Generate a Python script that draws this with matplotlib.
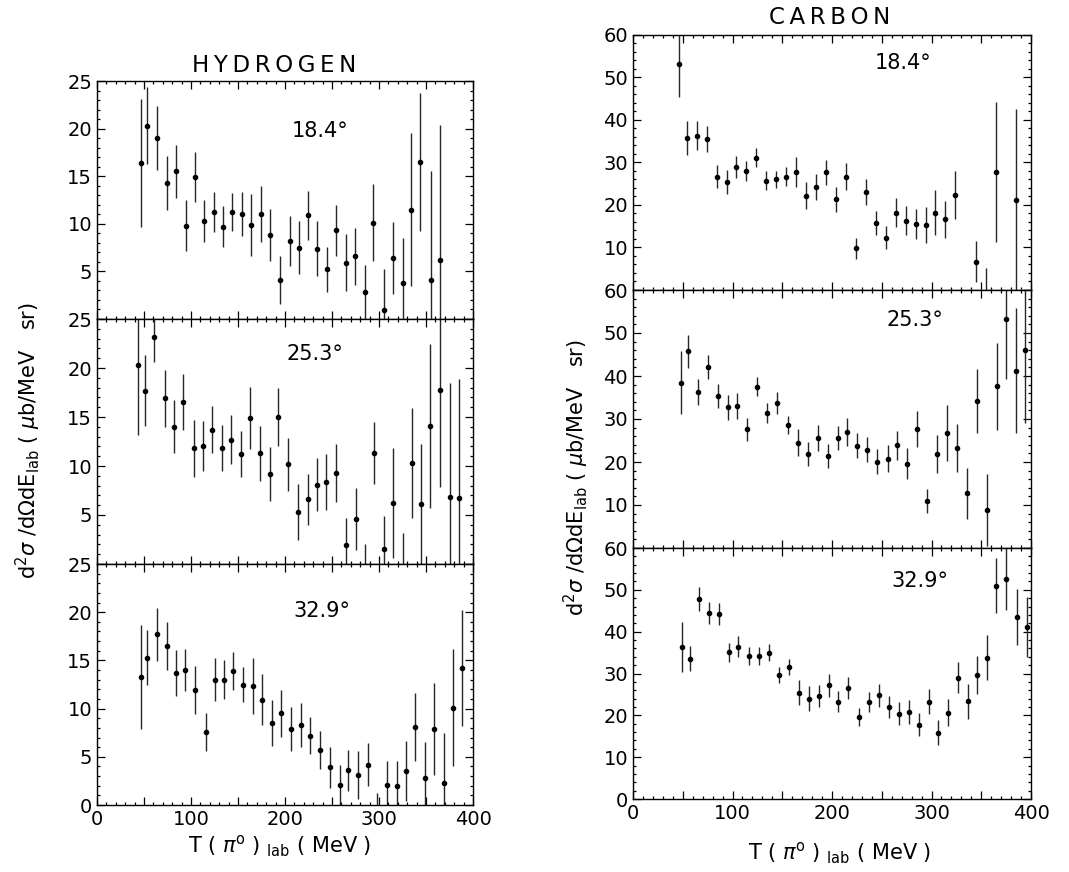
import matplotlib.pyplot as plt
from matplotlib.ticker import MultipleLocator, FuncFormatter

# pi0 kinetic energy (MeV), cross section and error
# hydrogen, 18.4 deg
h184_T = [47, 53, 63.5, 74, 84, 94.5, 104, 114, 124.5, 134, 144, 154, 164, 174, 184.5, 195, 205,
          215, 224.5, 234, 245, 254, 265, 274.5, 285, 294, 305.5, 315, 325, 334, 343.5, 355, 365]
h184_y = [16.4, 20.3, 19.0, 14.3, 15.5, 9.8, 14.9, 10.3, 11.2, 9.7, 11.2, 11.0, 9.9, 11.0, 8.8, 4.1, 8.2,
          7.5, 10.9, 7.4, 5.2, 9.3, 5.9, 6.6, 2.8, 10.1, 0.9, 6.4, 3.8, 11.5, 16.5, 4.1, 6.2]
h184_e = [6.7, 4.05, 3.4, 2.85, 2.8, 2.65, 2.65, 2.2, 2.1, 2.15, 2.0, 2.3, 3.25, 2.95, 2.75, 2.5, 2.65,
          2.8, 2.55, 2.85, 2.4, 2.65, 3.0, 3.0, 2.9, 4.05, 4.3, 3.75, 4.7, 8.05, 7.25, 11.4, 14.2]

# hydrogen, 25.3 deg
h253_T = [44, 51.5, 61, 72, 82, 92, 103, 113, 122.5, 133, 143, 153.5, 163, 173, 184, 193, 203.5, 214,
          224, 234, 244, 254, 265, 275, 285, 295, 305, 315, 325, 335, 345, 354.5, 364.5, 375.5, 385.5]
h253_y = [20.3, 17.7, 23.2, 16.9, 14.0, 16.5, 11.8, 12.0, 13.7, 11.8, 12.7, 11.2, 14.9, 11.3, 9.2, 15.0,
          10.2, 5.3, 6.6, 8.1, 8.4, 9.3, 1.9, 4.6, -0.8, 11.3, 1.5, 6.2, -0.5, 10.3, 6.1, 14.1, 17.8,
          6.8, 6.7]
h253_e = [7.1, 3.6, 2.6, 2.9, 2.7, 2.85, 2.9, 2.55, 2.4, 2.35, 2.5, 2.35, 3.2, 2.8, 2.75, 2.95, 2.7,
          2.85, 2.6, 2.7, 2.85, 2.95, 2.8, 3.15, 2.8, 3.15, 3.4, 5.6, 3.7, 5.65, 6.1, 8.4, 9.9, 11.7, 12.2]

# hydrogen, 32.9 deg
h329_T = [47, 53.5, 63.5, 74, 84, 94, 104.5, 115.5, 125, 135, 145, 155, 165.5, 176, 186, 196, 206,
          216.5, 227, 237, 247.5, 258, 267.5, 277.5, 288, 298, 308.5, 319, 328.5, 338.5, 349, 359,
          369.5, 378.5, 388.5]
h329_y = [13.3, 15.3, 17.7, 16.5, 13.7, 14.0, 11.9, 7.6, 13.0, 13.0, 13.9, 12.5, 12.3, 10.9, 8.5, 9.5,
          7.9, 8.3, 7.2, 5.7, 3.9, 2.1, 3.6, 3.1, 4.2, -1.0, 2.1, 2.0, 3.5, 8.1, 2.8, 7.9, 2.3, 10.1, 14.2]
h329_e = [5.4, 2.9, 2.75, 2.5, 2.35, 2.15, 2.5, 1.95, 2.2, 2.05, 2.0, 1.85, 2.9, 2.65, 2.4, 2.4, 2.25,
          2.25, 1.95, 2.0, 2.1, 2.1, 2.1, 2.45, 2.25, 2.2, 2.5, 2.6, 3.1, 3.55, 3.7, 4.75, 5.2, 6.05, 6.05]

# carbon, 18.4 deg
c184_T = [46.5, 54, 64, 74, 84, 94, 104, 114, 124, 134, 144, 154, 164, 174, 184, 194, 204, 214,
          224.5, 234, 244.5, 254.5, 264, 274, 284, 294, 304, 314, 324, 345, 355, 365, 385]
c184_y = [53.1, 35.7, 36.3, 35.5, 26.7, 25.4, 29.0, 28.0, 31.1, 25.7, 26.0, 26.7, 27.8, 22.2, 24.3,
          27.7, 21.3, 26.7, 9.8, 23.1, 15.8, 12.3, 18.2, 16.3, 15.5, 15.3, 18.2, 16.6, 22.4, 6.7, -1.0,
          27.8, 21.2]
c184_e = [7.8, 4.05, 3.45, 3.05, 2.75, 2.8, 2.6, 2.35, 2.2, 2.2, 2.0, 2.3, 3.5, 3.15, 3.05, 2.95, 2.95,
          3.15, 2.55, 3.1, 2.75, 2.75, 3.35, 3.35, 3.45, 4.2, 5.25, 4.3, 5.6, 4.9, 6.1, 16.45, 21.3]

# carbon, 25.3 deg
c253_T = [48, 55, 65.5, 75, 85, 95, 105, 115, 125, 135, 145, 155.5, 165.5, 176, 186, 196, 206, 215.5,
          225.5, 235.5, 245.5, 256, 265.5, 275.5, 285.5, 295.5, 305.5, 315.5, 325.5, 335.5, 345.5, 356,
          365.5, 375, 385, 394]
c253_y = [38.4, 45.7, 36.3, 42.1, 35.4, 32.7, 33.0, 27.6, 37.5, 31.4, 33.7, 28.6, 24.5, 21.9, 25.6,
          21.4, 25.6, 27.0, 23.8, 22.8, 20.1, 20.8, 23.9, 19.6, 27.6, 11.0, 21.9, 26.8, 23.2, 12.7, 34.2,
          8.9, 37.6, 53.3, 41.2, 46.0]
c253_e = [7.35, 3.85, 3.1, 2.9, 2.8, 2.9, 3.0, 2.6, 2.25, 2.4, 2.5, 2.1, 3.2, 2.85, 3.0, 2.9, 2.8, 3.25,
          2.95, 2.9, 2.95, 3.1, 3.35, 3.55, 4.2, 2.8, 4.4, 6.55, 5.55, 6.0, 7.35, 8.35, 10.1, 14.0, 14.5, 17.0]

# carbon, 32.9 deg
c329_T = [49, 57, 66, 76, 86, 96.5, 106, 116.5, 126.5, 136.5, 146.5, 157, 167, 176.5, 186.5, 196.5,
          206.5, 216.5, 227, 237, 247, 257, 267, 277, 287, 297, 307, 317, 326.5, 337, 346, 356, 365,
          374.5, 386, 395.5]
c329_y = [36.3, 33.5, 47.9, 44.4, 44.2, 35.1, 36.4, 34.2, 34.2, 35.0, 29.6, 31.6, 25.4, 24.0, 24.6,
          27.2, 23.2, 26.6, 19.6, 23.2, 24.8, 22.0, 20.4, 20.8, 17.8, 23.3, 15.8, 20.6, 29.0, 23.4, 29.6,
          33.8, 51.0, 52.6, 43.5, 41.2]
c329_e = [6.05, 3.0, 2.85, 2.6, 2.6, 2.25, 2.55, 2.2, 2.25, 2.1, 1.95, 1.85, 3.0, 2.9, 2.7, 2.7, 2.5,
          2.6, 2.15, 2.4, 2.7, 2.7, 2.7, 2.9, 2.7, 3.1, 3.0, 3.2, 3.75, 4.2, 4.6, 5.4, 6.65, 7.4, 6.75, 7.2]

angles = ['18.4°', '25.3°', '32.9°']
h_label_pos = [(237, 19.8), (232, 21.4), (239, 20.1)]
c_label_pos = [(271, 53.3), (283, 53.0), (288, 52.2)]

W, H = 1069, 872
fig = plt.figure(figsize=(W / 100, H / 100), dpi=100)
plt.rcParams['font.family'] = 'DejaVu Sans'


def add_px_axes(x0, x1, ytop, ybot):
    return fig.add_axes([x0 / W, 1 - ybot / H, (x1 - x0) / W, (ybot - ytop) / H])


def draw_panel(ax, T, y, e, ymax, ymajor, yminor, label, lpos, bottom):
    ax.errorbar(T, y, yerr=e, fmt='o', ms=3, color='black', ecolor='0.15',
                elinewidth=1.0, capsize=0)
    ax.set_xlim(0, 400)
    ax.set_ylim(0, ymax)
    ax.xaxis.set_major_locator(MultipleLocator(50))
    ax.xaxis.set_minor_locator(MultipleLocator(10))
    ax.yaxis.set_major_locator(MultipleLocator(ymajor))
    ax.yaxis.set_minor_locator(MultipleLocator(yminor))
    ax.xaxis.set_major_formatter(FuncFormatter(lambda v, p: '%d' % v if v % 100 == 0 else ''))
    if bottom:
        ax.yaxis.set_major_formatter(FuncFormatter(lambda v, p: '%d' % v))
    else:
        ax.yaxis.set_major_formatter(FuncFormatter(lambda v, p: '%d' % v if v > 0 else ''))
    ax.tick_params(which='both', direction='in', top=True, right=True, labelsize=14,
                   labelbottom=bottom, width=0.9)
    ax.tick_params(which='major', length=6)
    ax.tick_params(which='minor', length=2.5)
    for s in ax.spines.values():
        s.set_linewidth(1.0)
    ax.text(lpos[0], lpos[1], label, ha='center', va='center', fontsize=15)


h_data = [(h184_T, h184_y, h184_e), (h253_T, h253_y, h253_e), (h329_T, h329_y, h329_e)]
c_data = [(c184_T, c184_y, c184_e), (c253_T, c253_y, c253_e), (c329_T, c329_y, c329_e)]

h_edges = [81, 319, 564, 805]
c_edges = [35, 290, 548, 799]

for i in range(3):
    ax = add_px_axes(97, 473, h_edges[i], h_edges[i + 1])
    T, y, e = h_data[i]
    draw_panel(ax, T, y, e, 25, 5, 1, angles[i], h_label_pos[i], i == 2)

    ax = add_px_axes(633, 1031, c_edges[i], c_edges[i + 1])
    T, y, e = c_data[i]
    draw_panel(ax, T, y, e, 60, 10, 2, angles[i], c_label_pos[i], i == 2)

thin = '\u2009'
fig.text(274 / W, 1 - 65 / H, thin.join('HYDROGEN'), ha='center', va='center', fontsize=16.5)
fig.text(830 / W, 1 - 17 / H, thin.join('CARBON'), ha='center', va='center', fontsize=16.5)

ylab = r'd$^2\sigma$ /d$\Omega$dE$_{\rm lab}$ ( $\mu$b/MeV   sr)'
fig.text(28 / W, 1 - 441 / H, ylab, rotation=90, ha='center', va='center', fontsize=15)
fig.text(576 / W, 1 - 478 / H, ylab, rotation=90, ha='center', va='center', fontsize=15)

xlab = r'T ( $\pi^{\rm o}$ ) $_{\rm lab}$ ( MeV )'
fig.text(280 / W, 1 - 846 / H, xlab, ha='center', va='center', fontsize=15)
fig.text(840 / W, 1 - 853 / H, xlab, ha='center', va='center', fontsize=15)

fig.savefig('out.png', dpi=100)
